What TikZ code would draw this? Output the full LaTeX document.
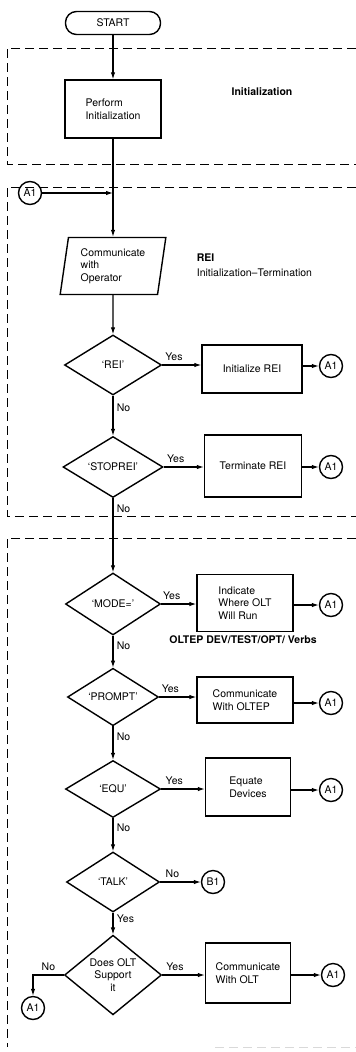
\documentclass[tikz,border=0pt]{standalone}
\usepackage{fontspec}
\setmainfont{TeX Gyre Heros}
\usetikzlibrary{arrows.meta,shapes.geometric}

\begin{document}
\begin{tikzpicture}[x=1pt, y=-1pt, >={Latex[length=7pt,width=4.5pt]}, line width=1.1pt,
    every node/.style={font=\fontsize{10.5}{12.5}\selectfont},
    proc/.style={draw, line width=1.4pt, align=left, inner sep=2pt},
    decision/.style={draw, line width=1.4pt, diamond, inner sep=0pt, align=center},
    conn/.style={draw, line width=1.4pt, circle, minimum size=23pt, inner sep=0pt},
    frame/.style={line width=1pt, dash pattern=on 9pt off 5pt},
    lbl/.style={font=\fontsize{10.5}{12.5}\selectfont\bfseries}]
    \useasboundingbox (0,0) rectangle (356,1052);

    % Dashed section frames
    \draw[frame] (356,48) -- (7,48) -- (7,164) -- (356,164);
    \draw[frame] (356,187) -- (7,187) -- (7,516) -- (356,516);
    \draw[frame] (356,538) -- (7,538) -- (7,1047);
    \draw[frame, gray!30] (215,1047) -- (356,1047);

    % Section labels
    \node[lbl] at (262,92) {Initialization};
    \node[lbl, anchor=west] at (193,258) {REI};
    \node[anchor=west] at (193,273) {Initialization--Termination};
    \node[lbl] at (243,640) {OLTEP DEV/TEST/OPT/ Verbs};

    % Start and initialization
    \node[draw, line width=1.4pt, rounded corners=11pt, minimum width=95pt, minimum height=23pt] (start) at (113,23) {START};
    \node[proc, minimum width=96pt, minimum height=58pt] (init) at (113,109) {Perform\\Initialization};

    % Operator dialogue
    \node[conn] (a1top) at (30,193) {A1};
    \coordinate (j1) at (113,193);
    \node[draw, line width=1.4pt, trapezium, trapezium left angle=81, trapezium right angle=99,
        trapezium stretches=true, minimum width=106pt, minimum height=57pt, align=left] (comm) at (113,266) {Communicate\\with\\Operator};

    % REI verbs
    \node[decision, minimum width=97pt, minimum height=60pt] (rei) at (113,365) {`REI'};
    \node[proc, minimum width=100pt, minimum height=48pt, align=center] (initrei) at (252,369) {Initialize REI};
    \node[conn] (a1b) at (331,366) {A1};
    \node[decision, minimum width=100pt, minimum height=61pt] (stop) at (113,467) {`STOPREI'};
    \node[proc, minimum width=97pt, minimum height=62pt, align=center] (termrei) at (253,466) {Terminate REI};
    \node[conn] (a1c) at (331,467) {A1};

    % OLTEP verbs
    \node[decision, minimum width=95pt, minimum height=62pt] (mode) at (113,604) {`MODE='};
    \node[proc, minimum width=96pt, minimum height=57pt] (indic) at (245,603) {Indicate\\Where OLT\\Will Run};
    \node[conn] (a1d) at (331,605) {A1};
    \node[decision, minimum width=91pt, minimum height=57pt] (prompt) at (113,697) {`PROMPT'};
    \node[proc, minimum width=96pt, minimum height=46pt] (oltep) at (245,700) {Communicate\\With OLTEP};
    \node[conn] (a1e) at (331,703) {A1};
    \node[decision, minimum width=95pt, minimum height=57pt] (equ) at (113,789) {`EQU'};
    \node[proc, minimum width=85pt, minimum height=58pt] (equate) at (248,787) {Equate\\Devices};
    \node[conn] (a1f) at (331,790) {A1};
    \node[decision, minimum width=93pt, minimum height=60pt] (talk) at (113,882) {`TALK'};
    \node[conn] (b1) at (213,882) {B1};
    \node[decision, minimum width=97pt, minimum height=60pt] (does) at (113,975) {Does OLT\\Support\\it};
    \node[proc, minimum width=85pt, minimum height=60pt] (olt) at (248,973) {Communicate\\With OLT};
    \node[conn] (a1g) at (333,975) {A1};
    \node[conn] (a1h) at (33,1008) {A1};

    % Main flow
    \draw[->] (start) -- (init);
    \draw[->] (init) -- (comm);
    \draw[->] (a1top) -- (j1);
    \draw[->] (comm) -- (rei);
    \draw[->] (rei) -- node[pos=0.3, right] {No} (stop);
    \draw[->] (stop) -- node[pos=0.14, right] {No} (mode);
    \draw[->] (mode) -- node[pos=0.3, right] {No} (prompt);
    \draw[->] (prompt) -- node[pos=0.3, right] {No} (equ);
    \draw[->] (equ) -- node[pos=0.3, right] {No} (talk);
    \draw[->] (talk) -- node[pos=0.3, right] {Yes} (does);

    % Branches
    \draw[->] (rei.east) -- node[pos=0.3, above] {Yes} (rei -| initrei.west);
    \draw[->] (initrei.east |- a1b) -- (a1b);
    \draw[->] (stop.east) -- node[pos=0.3, above] {Yes} (stop -| termrei.west);
    \draw[->] (termrei.east |- a1c) -- (a1c);
    \draw[->] (mode.east) -- node[pos=0.3, above] {Yes} (mode -| indic.west);
    \draw[->] (indic.east |- a1d) -- (a1d);
    \draw[->] (prompt.east) -- node[pos=0.3, above] {Yes} (prompt -| oltep.west);
    \draw[->] (oltep.east |- a1e) -- (a1e);
    \draw[->] (equ.east) -- node[pos=0.3, above] {Yes} (equ -| equate.west);
    \draw[->] (equate.east |- a1f) -- (a1f);
    \draw[->] (talk.east) -- node[pos=0.3, above] {No} (b1);
    \draw[->] (does.east) -- node[pos=0.3, above] {Yes} (does -| olt.west);
    \draw[->] (olt.east |- a1g) -- (a1g);
    \draw[->] (does.west) -- node[pos=0.5, above] {No} (does.west -| a1h) -- (a1h);
\end{tikzpicture}
\end{document}
